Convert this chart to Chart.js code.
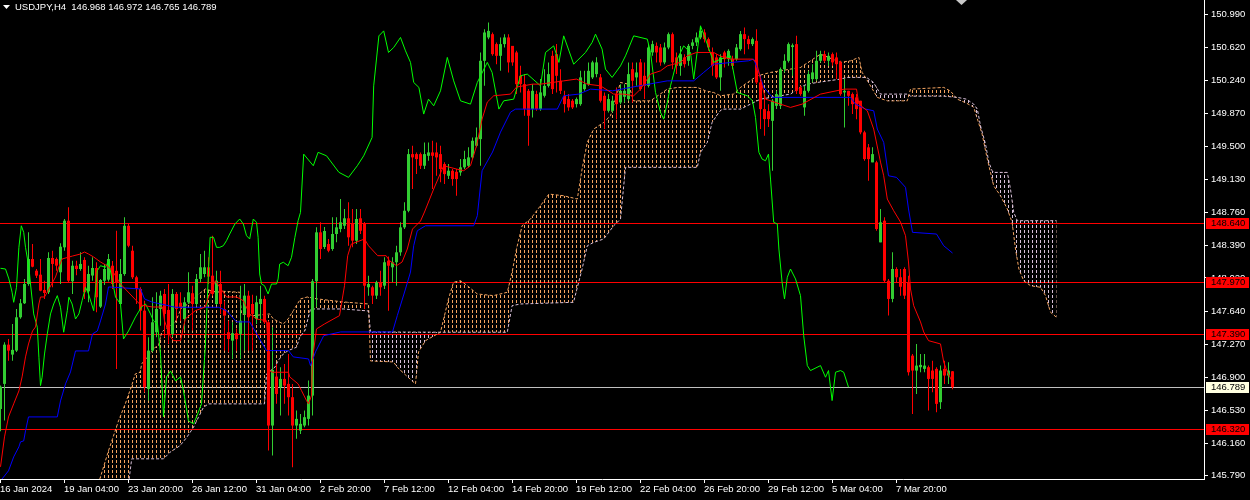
<!DOCTYPE html>
<html>
<head>
<meta charset="utf-8">
<script src="https://cdn.jsdelivr.net/npm/chart.js@4/dist/chart.umd.min.js"></script>
<style>
  html, body { margin: 0; padding: 0; background: #000; overflow: hidden; }
  canvas { display: block; }
</style>
</head>
<body>
<canvas id="chart" width="1250" height="500"></canvas>
<script>
// ===== Data (USDJPY H4, one value per bar) =====
const openP = [
  146.544,146.826,147.268,147.156,147.201,147.576,147.734,147.951,148.233,148.101,
  148.056,147.884,147.858,148.244,148.233,148.083,148.364,148.664,147.982,148.157,
  148.120,148.222,147.869,148.046,148.131,147.696,147.988,148.000,148.157,148.100,
  147.726,148.064,148.607,148.326,148.027,147.895,147.651,146.769,147.201,147.408,
  147.670,147.839,147.659,147.389,147.839,147.740,147.557,147.745,147.847,147.726,
  148.008,148.064,148.139,148.045,147.726,147.951,147.670,147.408,147.313,147.397,
  147.389,147.614,147.820,147.726,147.557,147.726,147.783,147.520,146.357,146.908,
  146.789,146.882,146.826,146.676,146.357,146.300,146.357,146.432,146.694,147.982,
  148.533,148.368,148.401,148.345,148.514,148.570,148.607,148.691,148.627,148.439,
  148.691,148.627,147.914,147.914,147.820,147.970,147.932,148.214,148.139,148.196,
  148.308,148.589,148.776,149.414,149.414,149.414,149.283,149.395,149.433,149.433,
  149.414,149.302,149.170,149.227,149.215,149.208,149.265,149.283,149.377,149.508,
  149.583,150.465,150.728,150.765,150.653,150.521,150.653,150.728,150.633,150.559,
  150.296,150.202,150.127,149.921,150.090,149.921,150.071,150.183,150.521,150.540,
  150.240,150.071,150.034,150.015,149.977,149.977,150.146,150.202,150.278,150.315,
  150.278,150.071,149.902,149.902,150.090,149.996,150.060,150.034,150.371,150.278,
  150.447,150.296,150.183,150.559,150.633,150.615,150.447,150.615,150.765,150.503,
  150.408,150.503,150.465,150.633,150.672,150.728,150.784,150.709,150.559,150.503,
  150.278,150.559,150.484,150.484,150.484,150.596,150.765,150.709,150.653,150.690,
  150.221,149.921,149.898,149.789,149.958,149.958,150.371,150.465,150.620,150.653,
  150.165,149.940,150.127,150.259,150.259,150.465,150.540,150.465,150.540,150.503,
  150.447,150.109,150.127,150.090,150.053,150.015,149.659,149.490,149.321,149.321,
  148.420,148.664,147.988,147.783,148.120,148.027,148.120,147.970,147.144,146.976,
  147.014,146.995,147.014,146.976,146.995,146.620,146.995,146.920,146.968
];
const highP = [
  146.807,147.295,147.332,147.501,147.670,147.783,148.008,148.533,148.401,148.120,
  148.233,147.988,148.308,148.326,148.250,148.409,148.683,148.815,148.214,148.214,
  148.308,148.252,148.157,148.252,148.196,148.008,148.177,148.290,148.210,148.551,
  148.233,148.702,148.627,148.382,148.045,147.914,147.763,147.351,147.802,147.858,
  147.876,147.895,147.951,147.895,147.861,147.858,147.802,148.083,147.932,148.064,
  148.289,148.326,148.252,148.495,148.101,148.101,147.763,147.538,147.520,147.450,
  147.932,147.951,147.876,147.830,147.820,147.932,147.820,147.538,147.464,147.051,
  147.014,147.051,147.163,146.826,146.525,146.488,146.525,146.863,148.008,148.589,
  148.646,148.593,148.458,148.702,148.702,148.908,148.796,148.871,148.796,148.796,
  148.796,148.650,148.045,147.932,147.988,148.101,148.252,148.260,148.252,148.382,
  148.646,148.871,149.471,149.508,149.433,149.433,149.546,149.546,149.564,149.546,
  149.508,149.321,149.302,149.246,149.246,149.358,149.452,149.490,149.602,149.715,
  150.559,150.821,150.897,150.784,150.672,150.728,150.765,150.765,150.633,150.577,
  150.408,150.315,150.146,150.202,150.127,150.259,150.371,150.447,150.577,150.653,
  150.371,150.127,150.090,150.034,150.053,150.352,150.352,150.447,150.465,150.506,
  150.315,150.109,150.090,150.071,150.165,150.202,150.202,150.447,150.447,150.447,
  150.484,150.447,150.653,150.690,150.672,150.653,150.672,150.784,150.784,150.559,
  150.633,150.540,150.653,150.709,150.784,150.859,150.821,150.728,150.615,150.540,
  150.540,150.577,150.596,150.521,150.653,150.802,150.840,150.746,150.728,150.821,
  150.240,150.071,149.977,150.034,150.127,150.390,150.540,150.672,150.660,150.746,
  150.183,150.183,150.352,150.427,150.577,150.577,150.577,150.559,150.559,150.559,
  150.465,150.259,150.127,150.109,150.090,150.015,149.677,149.527,149.490,149.339,
  148.796,148.702,148.008,148.308,148.139,148.120,148.139,148.045,147.163,147.276,
  147.163,147.163,147.032,147.088,147.014,147.032,147.088,147.070,146.972
];
const lowP = [
  146.294,146.413,147.088,147.088,147.186,147.560,147.726,147.932,148.139,148.020,
  147.870,147.783,147.839,147.914,148.100,147.951,148.326,147.970,147.839,148.050,
  148.101,147.783,147.745,147.988,147.633,147.681,147.940,147.980,147.895,146.995,
  147.726,148.045,148.364,148.008,147.726,147.426,146.733,146.638,147.183,147.351,
  147.482,147.351,147.276,147.355,147.538,147.538,147.426,147.726,147.426,147.700,
  147.970,148.027,147.951,147.820,147.715,147.614,147.201,147.183,147.107,147.200,
  147.107,147.201,147.201,147.201,147.501,147.520,147.501,146.075,146.019,146.601,
  146.469,146.601,146.469,145.888,146.207,146.263,146.339,146.357,146.469,147.689,
  148.233,148.345,148.308,148.326,148.420,148.533,148.570,148.382,148.364,148.401,
  148.514,147.670,147.820,147.726,147.783,147.820,147.895,147.651,147.970,147.932,
  148.270,148.570,148.758,149.021,149.189,149.246,149.246,149.339,149.021,149.170,
  149.096,149.077,149.133,149.058,148.945,149.170,149.246,149.265,149.358,149.490,
  149.283,150.183,150.709,150.521,150.427,150.352,150.615,150.334,150.408,150.090,
  150.109,149.846,149.508,149.827,149.902,149.902,150.053,150.165,150.090,150.109,
  150.090,149.884,149.902,149.921,149.940,149.958,150.127,150.183,150.259,150.280,
  149.996,149.696,149.884,149.884,149.808,149.977,149.996,150.015,149.996,150.183,
  150.127,150.034,150.165,150.521,150.447,150.408,150.427,150.596,150.371,150.315,
  150.296,150.390,150.408,150.596,150.633,150.709,150.672,150.577,150.296,150.259,
  150.127,150.390,150.408,150.371,150.465,150.577,150.540,150.596,150.633,150.202,
  149.696,149.620,149.718,149.227,149.921,149.921,150.334,150.447,150.296,150.090,
  150.071,149.846,150.109,150.221,150.240,150.447,150.447,150.408,150.408,150.259,
  150.071,149.715,149.958,149.865,149.808,149.639,149.339,149.114,149.321,148.551,
  148.420,147.970,147.595,147.745,147.970,147.820,147.783,146.920,146.488,146.713,
  146.957,146.957,146.525,146.733,146.507,146.544,146.826,146.826,146.765
];
const closeP = [
  146.795,147.268,147.201,147.209,147.576,147.734,147.951,148.233,148.146,148.045,
  147.876,147.850,148.244,148.177,148.158,148.371,148.664,147.988,148.157,148.120,
  148.177,147.858,148.064,148.131,147.802,147.996,148.120,148.233,147.951,147.970,
  148.064,148.607,148.382,148.027,147.895,147.651,146.789,147.201,147.520,147.670,
  147.820,147.614,147.389,147.839,147.670,147.690,147.745,147.858,147.726,148.008,
  148.139,148.139,148.034,147.839,147.988,147.726,147.595,147.332,147.397,147.330,
  147.538,147.820,147.576,147.614,147.745,147.783,147.520,146.357,146.983,146.713,
  146.882,146.807,146.676,146.357,146.432,146.376,146.451,146.694,147.982,148.533,
  148.345,148.548,148.326,148.514,148.589,148.646,148.691,148.477,148.439,148.683,
  148.551,147.932,147.951,147.820,147.970,147.914,148.196,148.157,148.196,148.308,
  148.589,148.776,149.414,149.377,149.358,149.283,149.414,149.433,149.395,149.377,
  149.246,149.189,149.227,149.133,149.133,149.265,149.358,149.377,149.564,149.602,
  150.465,150.784,150.802,150.540,150.521,150.653,150.728,150.447,150.447,150.202,
  150.202,149.921,149.846,150.127,149.921,150.109,150.183,150.315,150.146,150.296,
  150.127,149.977,149.940,149.940,150.034,150.278,150.202,150.352,150.447,150.447,
  150.015,149.902,150.034,150.015,149.977,150.127,150.127,150.315,150.240,150.334,
  150.146,150.183,150.615,150.653,150.559,150.447,150.615,150.765,150.447,150.408,
  150.540,150.427,150.633,150.672,150.728,150.802,150.709,150.615,150.408,150.278,
  150.503,150.484,150.577,150.408,150.615,150.765,150.709,150.653,150.709,150.221,
  149.921,149.808,149.808,150.015,150.090,150.371,150.465,150.653,150.640,150.127,
  150.090,150.127,150.315,150.334,150.465,150.540,150.465,150.521,150.447,150.427,
  150.090,150.127,150.071,149.977,149.921,149.659,149.358,149.358,149.414,148.570,
  148.646,147.988,147.783,148.120,148.027,147.920,147.820,146.957,146.976,147.032,
  147.040,147.032,146.882,146.882,146.601,146.976,146.920,146.976,146.789
];

// Ichimoku lines, [bar, price] vertices
const tenkan = [
  [0,145.892],[1,146.229],[2,146.454],[3.3,146.601],[4.6,146.747],[5.4,146.905],[6.25,147.130],[7,147.276],
  [8,147.422],[8.75,147.467],[9.6,147.726],[10,147.805],[11,147.805],[11.7,147.861],[13.75,148.030],[14.6,148.143],
  [15.4,148.233],[18,148.266],[20,148.289],[21,148.311],[22,148.289],[23.3,148.255],[25,148.199],[26.7,148.154],
  [28,148.098],[30,147.951],[35,147.715],[38,147.692],[40.5,147.692],[41,147.535],[42.5,147.355],[43.25,147.313],
  [45,147.313],[46.2,147.557],[48.7,147.651],[51.2,147.692],[52,147.805],[53.7,147.988],[56.5,147.805],[59,147.805],
  [60.7,147.763],[62.3,147.614],[64,147.557],[66.5,147.538],[67.3,146.976],[68,146.957],[72,146.957],[72.3,146.905],
  [74.4,146.826],[75.25,146.750],[76.5,146.638],[77,146.601],[77.75,146.694],[78,147.107],[79,147.445],[81,147.501],
  [84.75,147.595],[86,147.932],[86.8,148.270],[87.7,148.401],[91,148.458],[92,148.382],[94.3,148.270],[96.4,148.270],
  [97.25,148.214],[99,148.157],[100.4,148.199],[101.7,148.345],[103,148.570],[105,148.660],[106,148.762],[107.3,148.908],
  [108.3,149.021],[110.8,149.283],[114,149.246],[115.8,149.227],[117.5,149.283],[119,149.508],[120.4,149.808],[121.7,150.000],
  [123.3,150.071],[127.5,150.090],[129,150.169],[133,150.202],[135,150.202],[140.8,150.239],[144,150.259],[146.7,150.202],
  [150,150.183],[153.3,150.090],[155.8,150.090],[158.3,150.071],[160,150.146],[162.5,150.315],[165,150.352],[166.7,150.408],
  [170,150.447],[171.7,150.521],[174,150.559],[178.3,150.559],[180,150.517],[182.5,150.484],[188,150.484],[189,150.447],
  [190,150.259],[191.25,150.033],[195,149.977],[197.5,149.940],[200.4,149.977],[205,150.090],[211,150.146],[214,150.146],
  [214.6,149.977],[216.7,149.902],[218.3,149.696],[220,149.324],[220.8,149.170],[221.7,148.908],[223.3,148.776],[225,148.649],
  [226.25,148.495],[227,148.199],[227.5,147.895],[228.3,147.707],[230,147.524],[230.8,147.411],[232,147.313],[235,147.276],
  [235.8,147.073],[236.7,146.961],[238,146.848]
];
const kijun = [
  [0,145.734],[2,145.847],[3.3,146.004],[4.6,146.117],[5,146.173],[5.8,146.184],[6.25,146.297],[7,146.454],
  [14.2,146.454],[15,146.634],[16.25,146.826],[17.5,146.961],[18.75,147.197],[22,147.197],[23,147.389],[24.2,147.422],
  [25,147.535],[26.25,147.726],[27,147.918],[35,147.895],[36,147.783],[37.8,147.749],[43.7,147.689],[54.5,147.689],
  [56.5,147.651],[59,147.524],[62.3,147.524],[66.5,147.201],[72,147.201],[73.2,147.130],[77,147.107],[77.5,147.032],
  [78.75,147.186],[80.8,147.369],[85,147.411],[98,147.411],[99.2,147.595],[101.25,147.895],[102.5,148.086],[103.3,148.382],
  [104.2,148.551],[106.25,148.607],[118.3,148.607],[119.2,148.720],[120.4,149.227],[123,149.437],[125,149.662],[127.5,149.887],
  [128.75,149.921],[139.2,149.921],[140.8,150.071],[144.6,150.090],[147.5,150.146],[153,150.127],[157.5,150.165],[166.7,150.239],
  [173.3,150.239],[175.8,150.334],[178.3,150.427],[187,150.465],[188.3,150.484],[189.6,150.334],[190.8,150.165],[193,150.053],
  [212.5,150.053],[213.75,149.977],[216.25,149.921],[218.3,149.902],[219.2,149.696],[220.8,149.546],[222,149.170],[224,149.152],
  [226.25,149.040],[227,148.796],[228,148.533],[234,148.514],[235.8,148.382],[238,148.300]
];
const chikou = [
  [0,148.128],[1.25,148.120],[2.1,148.008],[2.9,147.858],[3.3,147.745],[4,147.914],[4.6,148.364],[5.2,148.607],
  [5.8,148.533],[6.25,148.364],[7.1,148.139],[7.5,147.951],[8.3,147.614],[9.2,147.464],[9.6,147.126],[10,146.807],
  [10.4,146.901],[11,147.163],[11.7,147.389],[12.5,147.614],[13.3,147.726],[14.2,147.820],[15,147.689],[15.8,147.408],
  [16.7,147.651],[17.1,147.802],[17.9,147.726],[18.75,147.557],[19.6,147.614],[20.4,147.763],[21.25,147.914],[22,147.839],
  [23.3,147.651],[24.2,148.101],[25,148.157],[26.25,148.139],[27,148.210],[28.75,147.805],[30,147.726],[30.75,147.332],
  [32,147.422],[33.75,147.580],[35.25,147.692],[36.25,147.726],[37.5,147.614],[38.25,147.535],[39.25,147.501],[40,147.163],
  [40.75,146.454],[41.5,146.905],[42.5,146.972],[43.75,146.860],[45,146.905],[45.75,146.747],[47,146.409],[48.25,146.376],
  [49,146.454],[50.25,146.601],[51.2,147.242],[52,148.101],[52.4,148.477],[53.25,148.477],[54,148.364],[54.8,148.364],
  [55.7,148.382],[56.5,148.439],[57.3,148.514],[58.6,148.627],[59.8,148.683],[60.7,148.627],[61.5,148.495],[62.3,148.458],
  [63.2,148.683],[64,148.646],[64.4,148.477],[64.8,148.064],[65.25,147.951],[66,147.932],[66.9,147.839],[67.75,147.951],
  [69,147.951],[69.4,148.008],[69.8,148.176],[70.7,148.196],[71.9,148.157],[72.75,148.252],[73.6,148.477],[74.4,148.664],
  [75,148.758],[75.8,149.414],[78.2,149.283],[79.4,149.434],[81.5,149.395],[84.6,149.209],[87,149.152],[89.2,149.283],
  [90.8,149.395],[92.9,149.602],[93.3,150.183],[94.6,150.746],[95.8,150.802],[97,150.559],[98.3,150.615],[100,150.728],
  [101.25,150.577],[102.5,150.447],[103.3,150.221],[104.6,150.165],[105.8,149.865],[107,150.033],[108.3,149.958],[110,150.127],
  [111.7,150.503],[113.3,150.239],[115,150.014],[117.5,149.977],[119.2,150.221],[121.7,150.447],[122.9,150.334],[124.6,149.921],
  [125.8,150.014],[128.3,150.033],[130,150.296],[131.7,150.315],[135,150.183],[136.25,150.559],[138.3,150.633],[139.6,150.447],
  [140.8,150.746],[143.3,150.427],[146.25,150.559],[147.9,150.672],[148.75,150.765],[150.4,150.596],[151.25,150.371],[152.9,150.278],
  [155,150.408],[156.25,150.521],[158.3,150.746],[161.7,150.709],[162.5,150.559],[163.75,150.109],[165,149.884],[165.8,149.808],
  [166.7,149.996],[167.5,150.183],[169.2,150.484],[170.8,150.633],[172.5,150.559],[173.3,150.259],[175,150.858],[176.25,150.709],
  [178.3,150.447],[180,150.484],[182.5,150.521],[184.2,150.109],[186.7,150.071],[188,150.014],[188.75,149.828],[189.6,149.434],
  [190.4,149.358],[191.25,149.339],[192,149.414],[192.5,149.133],[193.3,148.646],[194.2,148.627],[194.6,148.345],[195.4,147.970],
  [196,147.783],[196.7,148.027],[197.5,148.120],[198.75,148.008],[200,147.820],[200.8,147.369],[201.7,147.032],[202.5,146.976],
  [205,147.032],[206.25,146.901],[207,146.976],[207.9,146.638],[208.75,146.957],[210,146.976],[210.8,146.957],[212,146.789]
];
const spanA = [
  [24,145.644],[25,145.779],[27,146.072],[29.5,146.409],[31.2,146.601],[32.8,146.807],[33.7,146.938],[34.9,146.957],
  [35.3,147.051],[38.7,147.239],[39.5,147.257],[40.3,147.408],[41.2,147.445],[43.7,147.520],[45.3,147.689],[47,147.726],
  [49.1,147.820],[51.2,147.895],[54,147.858],[55.7,147.869],[59.8,147.858],[60.25,147.614],[63.2,147.595],[67.3,147.614],
  [68.2,147.557],[70.7,147.501],[71.9,147.557],[73.2,147.651],[75,147.783],[76.7,147.805],[79.2,147.783],[85.75,147.749],
  [92,147.726],[92.5,147.085],[98.25,147.073],[99.2,147.014],[101.25,146.927],[103.75,146.826],[104.5,147.186],[106.25,147.313],
  [110,147.408],[112,147.783],[113.25,147.970],[115,147.988],[116.7,147.932],[119.2,147.839],[123.25,147.820],[126.7,147.858],
  [127.9,148.083],[129,148.345],[130.4,148.607],[132.5,148.683],[135,148.833],[137.1,148.964],[140.8,148.945],[144.2,148.908],
  [145.4,149.246],[146.7,149.546],[148.3,149.696],[150.8,149.771],[152.5,149.846],[155,150.221],[157,150.202],[158.25,150.014],
  [162.5,150.014],[166.7,150.146],[169.2,150.165],[174.2,150.165],[176.25,150.127],[178.25,150.109],[180,150.071],[183.25,150.090],
  [185,150.165],[189.2,150.296],[192.5,150.334],[200,150.390],[202.5,150.465],[205,150.540],[210,150.447],[212.5,150.465],
  [214.6,150.503],[215.4,150.334],[216.5,150.259],[219.2,150.053],[221.7,150.014],[226.7,150.014],[227.5,150.146],[235.8,150.165],
  [237.5,150.124],[239.2,150.033],[241.5,149.988],[243.3,149.943],[245.4,149.640],[246.7,149.358],[248.3,149.058],[250,148.945],
  [251.7,148.796],[252.9,148.646],[253.75,148.345],[254.6,148.120],[255.8,147.988],[257.5,147.932],[260,147.914],[261.25,147.820],
  [262.5,147.633],[264,147.576]
];
const spanB = [
  [24,145.531],[32,145.700],[32.8,145.982],[40.75,145.982],[42.4,146.057],[44.9,146.131],[46.6,146.226],[48.25,146.338],
  [49.5,146.451],[50.75,146.563],[52,146.601],[66,146.601],[66.5,146.938],[68.6,147.014],[69.4,147.088],[70.7,147.163],
  [71.9,147.201],[74,147.239],[74.8,147.351],[76.1,147.426],[77.5,147.670],[85.75,147.670],[92,147.647],[92.5,147.411],
  [110,147.408],[126.7,147.408],[127.9,147.707],[130,147.726],[143.25,147.745],[145.4,148.120],[146.7,148.382],[148.3,148.420],
  [150.8,148.458],[153.3,148.607],[155,148.683],[156.25,149.265],[174.2,149.265],[175,149.434],[176.7,149.546],[177.9,149.771],
  [179.6,149.884],[180.4,149.921],[185,149.921],[190,150.033],[195,150.071],[197.5,150.090],[200,150.169],[201.7,150.202],
  [204.2,150.221],[210,150.259],[211.7,150.278],[216.5,150.278],[218.25,150.221],[220,150.090],[226.7,150.090],[227.5,150.067],
  [235.8,150.067],[239.2,150.053],[241.5,150.033],[243.3,149.977],[244.2,149.921],[245,149.733],[246.25,149.527],[247.1,149.321],
  [247.9,149.227],[248.3,149.208],[251.7,149.208],[252.5,149.021],[253.3,148.758],[254.2,148.664],[264,148.664]
];
// bar ranges where span B sits above span A (bearish cloud)
const bearRanges = [[92.5, 110], [216.5, 226.7], [239.2, 264]];

const yTicks = [150.990,150.620,150.240,149.870,149.500,149.130,148.760,148.390,148.020,147.640,147.270,146.900,146.530,146.160,145.790];
const xTickBars = [0,16,32,48,64,80,96,112,128,144,160,176,192,208,224];
const xTickLabels = ['16 Jan 2024','19 Jan 04:00','23 Jan 20:00','26 Jan 12:00','31 Jan 04:00','2 Feb 20:00','7 Feb 12:00',
  '12 Feb 04:00','14 Feb 20:00','19 Feb 12:00','22 Feb 04:00','26 Feb 20:00','29 Feb 12:00','5 Mar 04:00','7 Mar 20:00'];
const levels = [148.640, 147.970, 147.390, 146.320];
const bidPrice = 146.789;
const title = 'USDJPY,H4  146.968 146.972 146.765 146.789';

// ===== Colours =====
const bull = '#32cd32', bear = '#ff0000';
const font = '"Liberation Sans", Arial, sans-serif';
Chart.defaults.font.family = font;
Chart.defaults.color = '#fff';

const canvas = document.getElementById('chart');
const ctx = canvas.getContext('2d');

// cloud hatch: one dotted column per bar
function hatch(color) {
    const c = document.createElement('canvas');
    c.width = 4; c.height = 5;
    const g = c.getContext('2d');
    g.fillStyle = color;
    g.fillRect(0, 0, 1, 3);
    return ctx.createPattern(c, 'repeat');
}
const hatchUp = hatch('#f4a460');
const hatchDown = hatch('#d8bfd8');

const candleColor = c => closeP[c.dataIndex] >= openP[c.dataIndex] ? bull : bear;
const inRange = (pts, r) => pts.filter(p => p[0] >= r[0] && p[0] <= r[1]);

// ===== Overlay: levels, axis labels, header =====
const overlay = {
    id: 'overlay',
    beforeDatasetsDraw(chart) {
        const {ctx, chartArea: a, scales: {y}} = chart;
        ctx.save();
        ctx.lineWidth = 1;
        levels.forEach(v => {
            const py = Math.round(y.getPixelForValue(v)) + 0.5;
            ctx.strokeStyle = '#ff0000';
            ctx.beginPath(); ctx.moveTo(a.left, py); ctx.lineTo(a.right, py); ctx.stroke();
        });
        const by = Math.round(y.getPixelForValue(bidPrice)) + 0.5;
        ctx.strokeStyle = '#c0c0c0';
        ctx.beginPath(); ctx.moveTo(a.left, by); ctx.lineTo(a.right, by); ctx.stroke();
        ctx.restore();
    },
    afterDraw(chart) {
        const {ctx, chartArea: a, scales: {x, y}} = chart;
        ctx.save();
        ctx.font = '9.5px ' + font;
        ctx.textBaseline = 'middle';
        ctx.textAlign = 'left';
        ctx.strokeStyle = '#fff';
        ctx.fillStyle = '#fff';
        ctx.lineWidth = 1;

        // time axis
        xTickBars.forEach((b, k) => {
            const px = x.getPixelForValue(b);
            ctx.beginPath(); ctx.moveTo(px, a.bottom); ctx.lineTo(px, a.bottom + 4); ctx.stroke();
            ctx.fillText(xTickLabels[k], px - 0.5, a.bottom + 10);
        });

        // price boxes on the axis
        const box = (v, bg) => {
            const py = Math.round(y.getPixelForValue(v));
            ctx.fillStyle = bg;
            ctx.fillRect(a.right + 2, py - 5, 43, 11);
            ctx.fillStyle = '#000';
            ctx.fillText(v.toFixed(3), a.right + 7, py + 0.5);
        };
        levels.forEach(v => box(v, '#ff0000'));
        box(bidPrice, '#ffffe0');

        // header
        ctx.fillStyle = '#fff';
        ctx.beginPath(); ctx.moveTo(3, 5); ctx.lineTo(10, 5); ctx.lineTo(6.5, 9); ctx.closePath(); ctx.fill();
        ctx.fillText(title, 15, 7.5);

        // chart shift marker
        ctx.fillStyle = '#c8c8c8';
        ctx.beginPath(); ctx.moveTo(956, 0); ctx.lineTo(967, 0); ctx.lineTo(961.5, 5); ctx.closePath(); ctx.fill();
        ctx.restore();
    }
};

const lineStyle = (data, color, order) => ({
    type: 'line', data, borderColor: color, borderWidth: 1, pointRadius: 0,
    tension: 0, fill: false, order
});

const datasets = [
    {
        type: 'line', data: spanA, borderColor: '#f4a460', borderWidth: 1, borderDash: [3, 2],
        pointRadius: 0, tension: 0, order: 7, backgroundColor: hatchUp, fill: '+1'
    },
    {
        type: 'line', data: spanB, borderColor: '#d8bfd8', borderWidth: 1, borderDash: [3, 2],
        pointRadius: 0, tension: 0, order: 5, fill: false
    }
];
// bearish parts of the cloud repainted in thistle
bearRanges.forEach(r => {
    datasets.push({
        type: 'line', data: inRange(spanA, r), borderColor: 'transparent', borderWidth: 1,
        pointRadius: 0, tension: 0, order: 6, backgroundColor: hatchDown, fill: '+1'
    });
    datasets.push({
        type: 'line', data: inRange(spanB, r), borderColor: 'transparent', borderWidth: 1,
        pointRadius: 0, tension: 0, order: 6, fill: false
    });
});
datasets.push(
    {
        data: openP.map((o, i) => ({x: i, y: [lowP[i], highP[i]]})),
        backgroundColor: candleColor, barThickness: 1, grouped: false,
        borderWidth: 0, inflateAmount: 0, order: 4
    },
    {
        data: openP.map((o, i) => ({x: i, y: [o, closeP[i]]})),
        backgroundColor: candleColor, barThickness: 3, grouped: false,
        borderWidth: 0, inflateAmount: 0, minBarLength: 1, order: 3
    },
    lineStyle(chikou, '#00ff00', 2),
    lineStyle(kijun, '#0000ff', 1),
    lineStyle(tenkan, '#ff0000', 0)
);

new Chart(canvas, {
    type: 'bar',
    data: {datasets},
    options: {
        responsive: false,
        animation: false,
        devicePixelRatio: 1,
        layout: {padding: 0},
        plugins: {legend: {display: false}, tooltip: {enabled: false}},
        scales: {
            x: {
                type: 'linear', min: -0.125, max: 300.875, offset: false,
                grid: {display: false},
                border: {display: true, color: '#fff', width: 1},
                ticks: {display: false},
                afterFit(s) { s.height = 21; s.paddingLeft = 0; s.paddingRight = 0; s.paddingTop = 0; s.paddingBottom = 0; }
            },
            y: {
                position: 'right', min: 145.7548, max: 151.1498,
                grid: {display: true, drawOnChartArea: false, drawTicks: true, tickLength: 4, color: '#fff'},
                border: {display: true, color: '#fff', width: 1},
                ticks: {
                    autoSkip: false, padding: 3, color: '#fff',
                    font: {size: 9.5, family: font},
                    callback: v => Number(v).toFixed(3)
                },
                afterBuildTicks(s) { s.ticks = yTicks.map(v => ({value: v})); },
                afterFit(s) { s.width = 46; s.paddingTop = 0; s.paddingBottom = 0; s.paddingLeft = 0; s.paddingRight = 0; }
            }
        }
    },
    plugins: [overlay]
});
</script>
</body>
</html>
